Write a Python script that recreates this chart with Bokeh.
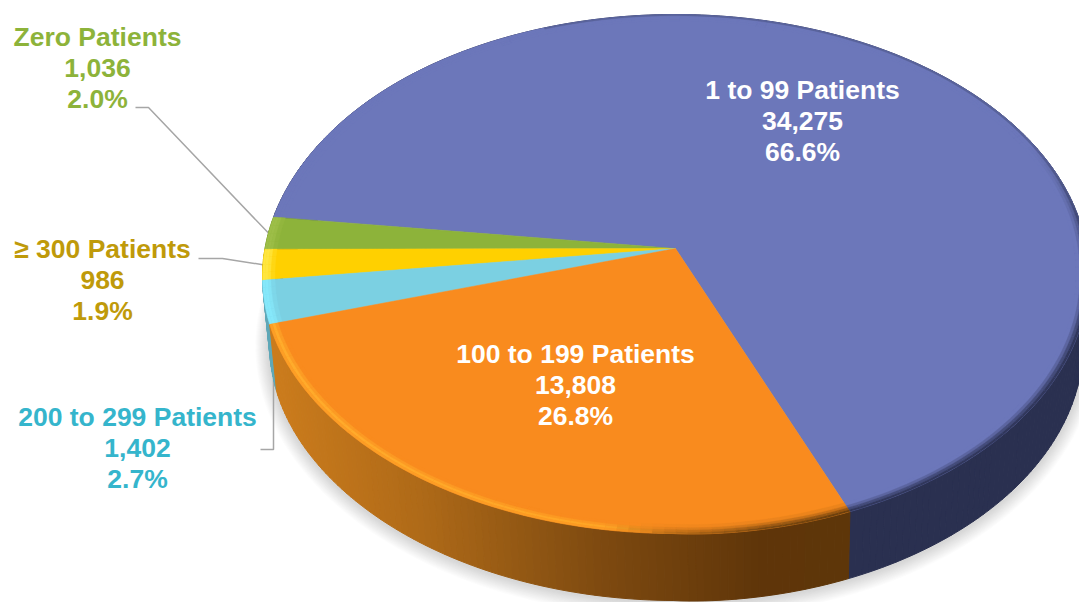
import math
from bokeh.plotting import figure
from bokeh.models import Range1d
from bokeh.core.properties import value
from bokeh.embed import file_html
from bokeh.resources import INLINE

categories = ["1 to 99 Patients", "Zero Patients", "\u2265 300 Patients", "200 to 299 Patients", "100 to 199 Patients"]
counts = [34275, 1036, 986, 1402, 13808]
count_labels = ["34,275", "1,036", "986", "1,402", "13,808"]
percent_labels = ["66.6%", "2.0%", "1.9%", "2.7%", "26.8%"]
face_colors = ["#6C77BA", "#8DB33A", "#FFD000", "#7BD0E2", "#F98B1E"]
label_colors = ["#FFFFFF", "#8DB33A", "#BF9A0A", "#35B5CC", "#FFFFFF"]

# layout
START = math.radians(-67.3)
AX, AY, A, K = 675.0, 248.0, 0.0983, 257.0
R = 411.0
BX, BY, BR = 676.0, 315.0, 405.0
WARP = 4.0
LEFT_WARP = 3.0
label_pos = [(802, 89), (97, 36), (102, 248), (137, 416), (575, 353)]
LINE = 31

def hexrgb(c):
    return tuple(int(c[i:i + 2], 16) for i in (1, 3, 5))

def mix(c1, c2, t):
    t = max(0.0, min(1.0, t))
    a, b = hexrgb(c1), hexrgb(c2)
    return "#%02x%02x%02x" % tuple(round(a[i] + (b[i] - a[i]) * t) for i in range(3))

def ramp(stops, x):
    if x <= stops[0][0]:
        return stops[0][1]
    for (x0, c0), (x1, c1) in zip(stops, stops[1:]):
        if x <= x1:
            return mix(c0, c1, (x - x0) / (x1 - x0))
    return stops[-1][1]

def warp(th):
    c, s = math.cos(th), math.sin(th)
    return WARP * math.sqrt(max(0.0, c) * max(0.0, -s)) + LEFT_WARP * max(0.0, -c) ** 8

def top(th, r=1.0):
    xp, yp = r * math.cos(th), r * math.sin(th)
    w = 1 + A * yp
    return AX + R * xp / w, AY - K * yp / w + warp(th) * r ** 4

def bottom(th, grow=0.0, dy=0.0):
    xp, yp = math.cos(th), math.sin(th)
    w = 1 + A * yp
    return BX + (BR + grow) * xp / w, BY + dy - (K + grow) * yp / w + warp(th)

total = sum(counts)
edges = [START]
for v in counts:
    edges.append(edges[-1] + 2 * math.pi * v / total)

p = figure(width=1079, height=602, x_range=Range1d(0, 1079), y_range=Range1d(602, 0),
           x_axis_type=None, y_axis_type=None, toolbar_location=None, output_backend="svg",
           min_border=0, outline_line_color=None, background_fill_color="white")
p.grid.visible = False

# soft shadow below the rim
circle = [2 * math.pi * i / 240 for i in range(240)]
for g in range(14, 0, -1):
    pts = [bottom(t, g, 1.0) for t in circle]
    p.patch([q[0] for q in pts], [q[1] for q in pts], fill_color="#808080", fill_alpha=0.028, line_color=None)

# leader lines
def mid(i):
    return 0.5 * (edges[i] + edges[i + 1])
z = top(mid(1)); y3 = top(mid(2))
p.line([135, 148, z[0]], [107, 107, z[1]], line_color="#A6A6A6", line_width=1.5)
p.line([198, 222, y3[0]], [258, 258, y3[1]], line_color="#A6A6A6", line_width=1.5)
p.line([260, 273, 273], [449, 449, 378], line_color="#A6A6A6", line_width=1.5)

# rim
orange_rim = [(272, "#CC7C1C"), (420, "#AF6A18"), (600, "#7E4A10"), (760, "#5F3509"), (850, "#5E3609")]
def rim_color(i, x):
    if i == 4:
        return ramp(orange_rim, x)
    if i == 0:
        return "#2A3050"
    return {1: "#6E8C2C", 2: "#BFA000", 3: "#5FA8B8"}[i]

xs, ys, cs = [], [], []
for i in range(5):
    n = max(3, int((edges[i + 1] - edges[i]) / math.radians(1.0)))
    for j in range(n):
        t0 = edges[i] + (edges[i + 1] - edges[i]) * j / n
        t1 = edges[i] + (edges[i + 1] - edges[i]) * (j + 1) / n
        a0, a1, b1, b0 = top(t0), top(t1), bottom(t1), bottom(t0)
        xs.append([a0[0], a1[0], b1[0], b0[0]])
        ys.append([a0[1], a1[1], b1[1], b0[1]])
        cs.append(rim_color(i, 0.5 * (a0[0] + b1[0])))
p.patches(xs, ys, fill_color=cs, line_color=cs, line_width=1)

# slices
for i in range(5):
    n = max(4, int((edges[i + 1] - edges[i]) / math.radians(1.0)))
    ts = [edges[i] + (edges[i + 1] - edges[i]) * j / n for j in range(n + 1)]
    pts = [top(0, 0)] + [top(t) for t in ts]
    p.patch([q[0] for q in pts], [q[1] for q in pts], fill_color=face_colors[i],
            line_color=face_colors[i], line_width=0.5)

# bevel at the outer edge of each slice
NAVY = "#2A3050"
def band_color(i, t, x, r0):
    base = face_colors[i]
    if i == 0:
        deg = math.degrees(t)
        front = hexrgb(ramp([(-70, "#ffffff"), (-8, "#ffffff"), (25, "#000000")], deg))[0] / 255
        s = 0.0
        if r0 >= 0.994:
            s = 0.9 * front + 0.3 * (1 - front) * (1 if deg < 110 else 0)
        elif r0 >= 0.987:
            s = 0.6 * front
        elif r0 >= 0.98:
            s = 0.25 * front
        return mix(base, NAVY, s)
    if i == 4:
        ec = ramp([(272, "#FFAC2C"), (600, "#FFA626"), (660, "#C07018"), (760, "#7A4810"), (850, "#6A3E0C")], x)
        if x > 640:
            s = {0.97: 0.1, 0.98: 0.35, 0.987: 0.7, 0.994: 1.0}[r0]
        else:
            s = {0.97: 0.0, 0.98: 0.5, 0.987: 1.0, 0.994: 0.6}[r0]
        return mix(base, ec, s)
    ec = {1: "#9DBE48", 2: "#FFE640", 3: "#86E8FA"}[i]
    return mix(base, ec, {0.97: 0.3, 0.98: 0.8, 0.987: 1.0, 0.994: 1.0}[r0])

bands = [(0.97, 0.98), (0.98, 0.987), (0.987, 0.994), (0.994, 1.0)]
xs, ys, cs = [], [], []
for i in range(5):
    n = max(4, int((edges[i + 1] - edges[i]) / math.radians(1.5)))
    for j in range(n):
        t0 = edges[i] + (edges[i + 1] - edges[i]) * j / n
        t1 = edges[i] + (edges[i + 1] - edges[i]) * (j + 1) / n
        for r0, r1 in bands:
            a0, a1, b1, b0 = top(t0, r0), top(t1, r0), top(t1, r1), top(t0, r1)
            tm = 0.5 * (t0 + t1)
            c = band_color(i, tm, a0[0], r0)
            xs.append([a0[0], a1[0], b1[0], b0[0]])
            ys.append([a0[1], a1[1], b1[1], b0[1]])
            cs.append(c)
p.patches(xs, ys, fill_color=cs, line_color=cs, line_width=0.3)

# labels
for i, (lx, ly) in enumerate(label_pos):
    for k, s in enumerate([categories[i], count_labels[i], percent_labels[i]]):
        p.text([lx], [ly + k * LINE], text=[s], text_color=label_colors[i],
               text_font=value("Liberation Sans"), text_font_style="bold",
               text_font_size="26.5px", text_align="center", text_baseline="middle")

open("out.html", "w").write(file_html(p, INLINE))
